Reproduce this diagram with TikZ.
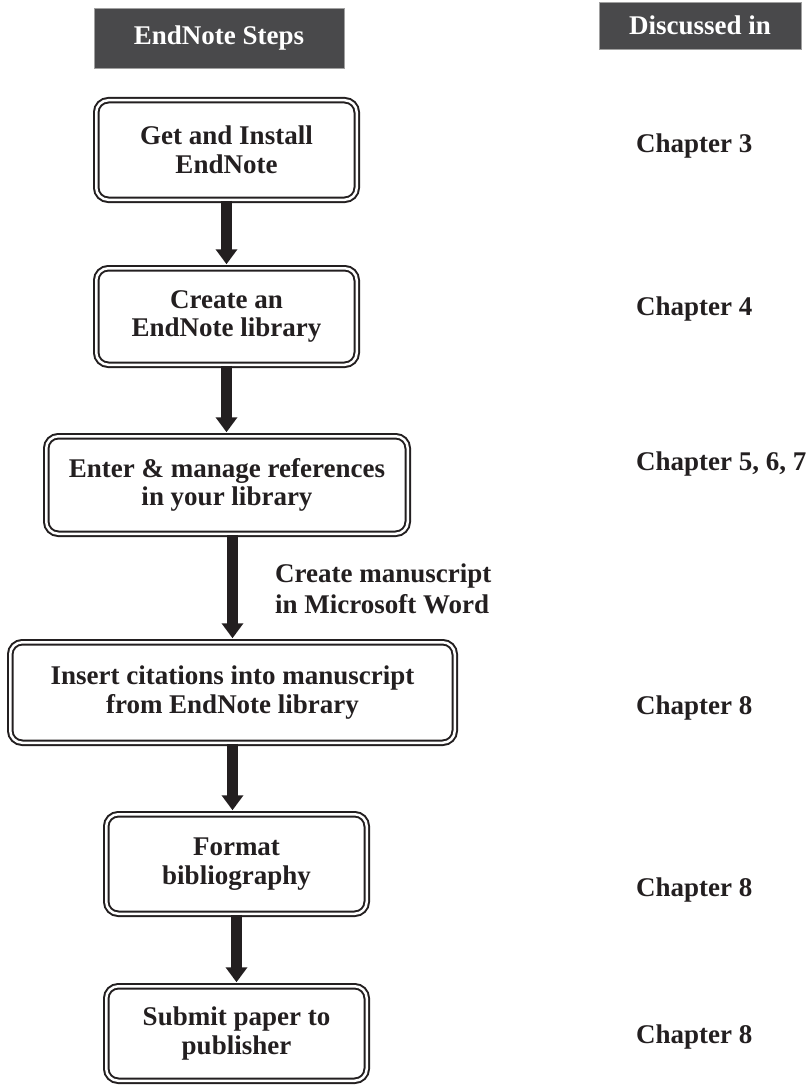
\documentclass[tikz,border=0pt]{standalone}
\usepackage{fontspec}
\setmainfont{Liberation Serif}
\usetikzlibrary{arrows.meta}
\definecolor{hdr}{HTML}{49494B}
\definecolor{hdredge}{HTML}{A0A0A0}
\definecolor{ink}{HTML}{231F20}
\newcommand{\bigbf}{\fontsize{27}{28.5}\selectfont\bfseries}
\tikzset{
  stepbox/.style={draw=ink, line width=2pt, double=white, double distance=2.5pt,
    rounded corners=12pt, align=center, inner sep=0pt, font=\bigbf, text=ink},
  hdrbox/.style={fill=hdr, draw=hdredge, line width=0.8pt, text=white,
    font=\bigbf, inner sep=0pt},
  chap/.style={anchor=base west, font=\bigbf, text=ink, inner sep=0pt},
  note/.style={anchor=base west, font=\fontsize{27}{31}\selectfont\bfseries, text=ink, inner sep=0pt, align=left},
  flow/.style={draw=ink, line width=11pt, shorten >=3pt,
    -{Triangle[width=21pt,length=15pt]}}
}
\begin{document}
\begin{tikzpicture}[x=1pt,y=-1pt]
\useasboundingbox (0,0) rectangle (811,1086);
% headers
\node[hdrbox, minimum width=250pt, minimum height=60pt] (h1) at (219,38) {EndNote Steps};
\node[hdrbox, minimum width=202pt, minimum height=47pt] (h2) at (700,25.5) {Discussed in};
% steps
\node[stepbox, minimum width=260.5pt, minimum height=99.5pt] (b1) at (226.5,150) {Get and Install\\EndNote};
\node[stepbox, minimum width=260.5pt, minimum height=96.5pt] (b2) at (226.5,316.5) {Create an\\EndNote library};
\node[stepbox, minimum width=361.5pt, minimum height=97.5pt] (b3) at (227,485) {Enter \& manage references\\in your library};
\node[stepbox, minimum width=444.5pt, minimum height=100.5pt] (b4) at (232.5,692.5) {Insert citations into manuscript\\from EndNote library};
\node[stepbox, minimum width=260.5pt, minimum height=99.5pt] (b5) at (236.5,864) {Format\\bibliography};
\node[stepbox, minimum width=260.5pt, minimum height=94.5pt] (b6) at (236.5,1033.5) {Submit paper to\\publisher};
% chapters
\node[chap] (c1) at (636,153) {Chapter 3};
\node[chap] (c2) at (636,315) {Chapter 4};
\node[chap] (c3) at (636,470) {Chapter 5, 6, 7};
\node[chap] (c4) at (636,714) {Chapter 8};
\node[chap] (c5) at (636,896) {Chapter 8};
\node[chap] (c6) at (636,1043) {Chapter 8};
% side note
\node[note] (n1) at (275,613) {Create manuscript\\in Microsoft Word};
% arrows
\draw[flow] (b1.south) -- (b2.north);
\draw[flow] (b2.south) -- (b2.south |- b3.north);
\draw[flow] (b3.south -| b4.north) -- (b4.north);
\draw[flow] (b4.south) -- (b4.south |- b5.north);
\draw[flow] (b5.south) -- (b6.north);
\end{tikzpicture}
\end{document}
